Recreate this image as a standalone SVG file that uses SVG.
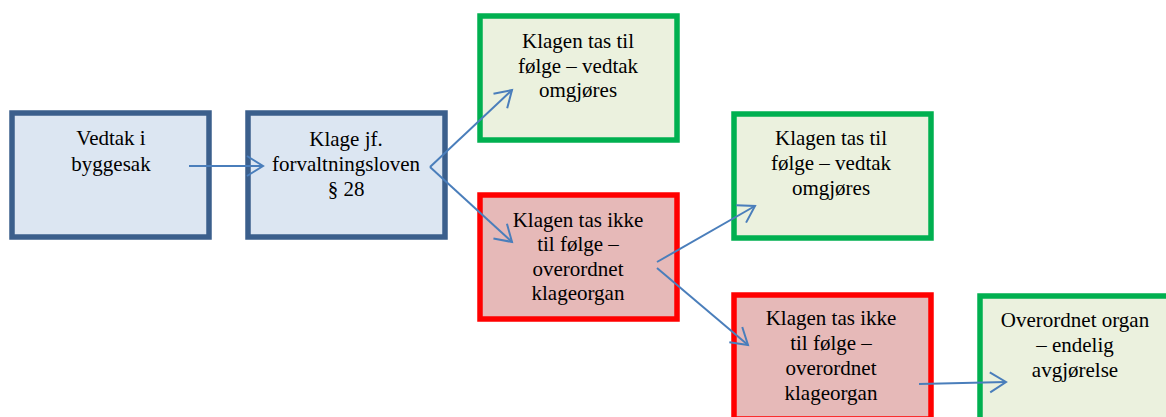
<svg xmlns="http://www.w3.org/2000/svg" width="1166" height="417" viewBox="0 0 1166 417">
<style>
.b{fill:#dce6f2;stroke:#3b5f8c;stroke-width:5.5}
.g{fill:#ebf1de;stroke:#00b050;stroke-width:5.5}
.r{fill:#e6b9b8;stroke:#ff0000;stroke-width:5.5}
.t text{font-size:21px;fill:#000;text-anchor:middle}
.c line{stroke:#4a7ebb;stroke-width:2;marker-end:url(#arr)}
</style>
<defs>
<marker id="arr" markerUnits="userSpaceOnUse" markerWidth="20" markerHeight="24" refX="16" refY="11" orient="auto" overflow="visible">
<path d="M0,1 L16,11 L0,21" fill="none" stroke="#4a7ebb" stroke-width="2"/>
</marker>
</defs>
<rect width="1166" height="417" fill="#fff"/>
<g class="t" font-family="'Liberation Serif', 'Times New Roman', Times, 'DejaVu Serif', serif">
<g id="n1"><rect class="b" x="12" y="113" width="197" height="124"/>
<text x="111" y="145">Vedtak i</text><text x="111" y="171">byggesak</text></g>
<g id="n2"><rect class="b" x="248" y="113" width="197" height="124"/>
<text x="346" y="146">Klage jf.</text><text x="346" y="171">forvaltningsloven</text><text x="346" y="196">§ 28</text></g>
<g id="n3"><rect class="g" x="480" y="16" width="197" height="124"/>
<text x="578" y="48">Klagen tas til</text><text x="578" y="73">følge – vedtak</text><text x="578" y="97">omgjøres</text></g>
<g id="n4"><rect class="r" x="480" y="195" width="197" height="124"/>
<text x="578" y="227">Klagen tas ikke</text><text x="578" y="251">til følge –</text><text x="578" y="276">overordnet</text><text x="578" y="300">klageorgan</text></g>
<g id="n5"><rect class="g" x="734" y="114" width="197" height="124"/>
<text x="831" y="145">Klagen tas til</text><text x="831" y="170">følge – vedtak</text><text x="831" y="195">omgjøres</text></g>
<g id="n6"><rect class="r" x="734" y="295" width="197" height="124"/>
<text x="831" y="325">Klagen tas ikke</text><text x="831" y="350">til følge –</text><text x="831" y="375">overordnet</text><text x="831" y="400">klageorgan</text></g>
<g id="n7"><rect class="g" x="980" y="296" width="197" height="124"/>
<text x="1075" y="327">Overordnet organ</text><text x="1075" y="352">– endelig</text><text x="1075" y="377">avgjørelse</text></g>
</g>
<g id="connectors" class="c">
<line x1="189" y1="166" x2="263" y2="166"/>
<line x1="430" y1="167" x2="512" y2="90"/>
<line x1="430" y1="167" x2="512" y2="242"/>
<line x1="657" y1="262" x2="755" y2="206"/>
<line x1="657" y1="268" x2="748" y2="345"/>
<line x1="919" y1="384" x2="1006" y2="382"/>
</g>
</svg>
